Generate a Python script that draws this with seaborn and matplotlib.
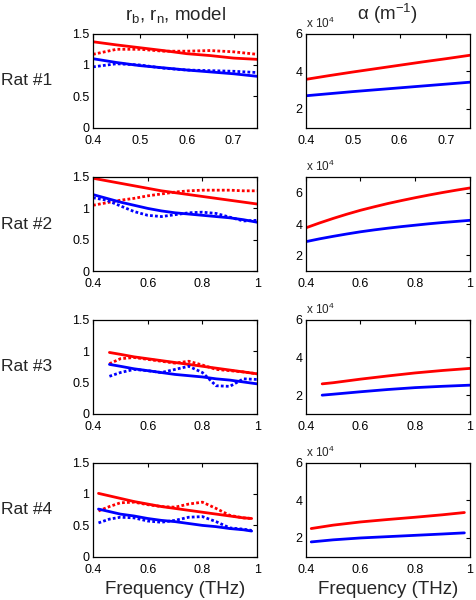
import matplotlib
matplotlib.use('Agg')
import matplotlib.pyplot as plt
from matplotlib.ticker import FuncFormatter
import seaborn as sns

# frequency grids (THz)
f1 = [0.40, 0.45, 0.50, 0.55, 0.60, 0.65, 0.70, 0.75]
f2 = [0.40, 0.45, 0.50, 0.55, 0.60, 0.65, 0.70, 0.75, 0.80, 0.85, 0.90, 0.95, 1.00]
f3 = [0.46, 0.50, 0.55, 0.60, 0.65, 0.70, 0.75, 0.80, 0.85, 0.90, 0.95, 1.00]
f4 = [0.42, 0.46, 0.50, 0.55, 0.60, 0.65, 0.70, 0.75, 0.80, 0.85, 0.90, 0.95, 0.98]

# r_b / r_n : solid = model, dotted = measured
rat1_red_model = [1.37, 1.32, 1.275, 1.23, 1.18, 1.15, 1.11, 1.09]
rat1_red_meas = [1.17, 1.25, 1.25, 1.22, 1.22, 1.23, 1.21, 1.17]
rat1_blue_model = [1.10, 1.04, 0.99, 0.955, 0.92, 0.89, 0.86, 0.82]
rat1_blue_meas = [0.97, 1.02, 1.00, 0.95, 0.92, 0.91, 0.90, 0.88]

rat2_red_model = [1.48, 1.44, 1.40, 1.36, 1.32, 1.28, 1.25, 1.22, 1.19, 1.16, 1.13, 1.10, 1.07]
rat2_red_meas = [1.05, 1.09, 1.13, 1.16, 1.20, 1.23, 1.26, 1.28, 1.29, 1.29, 1.29, 1.28, 1.28]
rat2_blue_model = [1.22, 1.16, 1.10, 1.05, 1.00, 0.96, 0.93, 0.91, 0.89, 0.87, 0.85, 0.82, 0.78]
rat2_blue_meas = [1.17, 1.13, 1.04, 0.95, 0.89, 0.87, 0.90, 0.93, 0.94, 0.92, 0.86, 0.80, 0.81]

rat3_red_model = [0.98, 0.95, 0.91, 0.88, 0.85, 0.82, 0.79, 0.76, 0.73, 0.70, 0.67, 0.64]
rat3_red_meas = [0.80, 0.88, 0.90, 0.87, 0.84, 0.81, 0.84, 0.78, 0.71, 0.69, 0.67, 0.64]
rat3_blue_model = [0.79, 0.76, 0.72, 0.69, 0.66, 0.63, 0.61, 0.59, 0.56, 0.54, 0.51, 0.48]
rat3_blue_meas = [0.60, 0.66, 0.71, 0.69, 0.66, 0.71, 0.76, 0.66, 0.45, 0.44, 0.56, 0.55]

rat4_red_model = [1.01, 0.97, 0.93, 0.88, 0.84, 0.80, 0.77, 0.74, 0.71, 0.68, 0.65, 0.62, 0.61]
rat4_red_meas = [0.73, 0.80, 0.86, 0.87, 0.83, 0.80, 0.79, 0.84, 0.87, 0.77, 0.66, 0.62, 0.61]
rat4_blue_model = [0.76, 0.72, 0.68, 0.65, 0.61, 0.58, 0.56, 0.53, 0.50, 0.48, 0.45, 0.43, 0.41]
rat4_blue_meas = [0.54, 0.60, 0.63, 0.62, 0.57, 0.55, 0.58, 0.63, 0.64, 0.56, 0.46, 0.44, 0.42]

# alpha (x 10^4 m^-1)
fa1 = [0.40, 0.45, 0.50, 0.55, 0.60, 0.65, 0.70, 0.75]
rat1_alpha_red = [3.57, 3.77, 3.96, 4.14, 4.32, 4.50, 4.67, 4.85]
rat1_alpha_blue = [2.70, 2.81, 2.92, 3.02, 3.12, 3.22, 3.32, 3.42]
fa2 = [0.40, 0.45, 0.50, 0.55, 0.60, 0.65, 0.70, 0.75, 0.80, 0.85, 0.90, 0.95, 1.00]
rat2_alpha_red = [3.76, 4.07, 4.36, 4.63, 4.88, 5.10, 5.31, 5.50, 5.68, 5.85, 6.01, 6.16, 6.30]
rat2_alpha_blue = [2.88, 3.06, 3.22, 3.37, 3.51, 3.63, 3.74, 3.84, 3.93, 4.02, 4.10, 4.17, 4.24]
fa3 = [0.46, 0.50, 0.60, 0.70, 0.80, 0.90, 1.00]
rat3_alpha_red = [2.60, 2.66, 2.85, 3.02, 3.18, 3.31, 3.42]
rat3_alpha_blue = [2.00, 2.05, 2.18, 2.30, 2.40, 2.47, 2.53]
fa4 = [0.42, 0.50, 0.60, 0.70, 0.80, 0.90, 0.98]
rat4_alpha_red = [2.50, 2.68, 2.85, 2.98, 3.10, 3.23, 3.35]
rat4_alpha_blue = [1.79, 1.90, 2.00, 2.07, 2.14, 2.21, 2.27]

rat_labels = ['Rat #1', 'Rat #2', 'Rat #3', 'Rat #4']

sns.set_style('white')
plt.rcParams['font.family'] = ['Liberation Sans', 'DejaVu Sans']
plt.rcParams['mathtext.fontset'] = 'custom'
plt.rcParams['mathtext.rm'] = 'Liberation Sans'
plt.rcParams['mathtext.it'] = 'Liberation Sans:italic'

fig = plt.figure(figsize=(4.77, 6.0), dpi=100)

bottoms = [0.787, 0.548, 0.31, 0.072]
h = 0.157
left_x, right_x, w = 0.195, 0.641, 0.344

r_data = [
    (f1, rat1_red_model, rat1_red_meas, rat1_blue_model, rat1_blue_meas),
    (f2, rat2_red_model, rat2_red_meas, rat2_blue_model, rat2_blue_meas),
    (f3, rat3_red_model, rat3_red_meas, rat3_blue_model, rat3_blue_meas),
    (f4, rat4_red_model, rat4_red_meas, rat4_blue_model, rat4_blue_meas),
]
a_data = [
    (fa1, rat1_alpha_red, rat1_alpha_blue),
    (fa2, rat2_alpha_red, rat2_alpha_blue),
    (fa3, rat3_alpha_red, rat3_alpha_blue),
    (fa4, rat4_alpha_red, rat4_alpha_blue),
]

fmt = FuncFormatter(lambda v, p: f'{v:g}')
lw = 2.0
dot = (0, (1.0, 0.8))


def style(ax):
    ax.tick_params(direction='in', top=True, right=True, length=3,
                   width=0.8, labelsize=9, colors='black')
    ax.tick_params(axis='x', pad=5)
    ax.tick_params(axis='y', pad=2.5)
    for s in ax.spines.values():
        s.set_color('black')
        s.set_linewidth(0.9)
    ax.xaxis.set_major_formatter(fmt)
    ax.yaxis.set_major_formatter(fmt)


for i in range(4):
    f, rm, rd, bm, bd = r_data[i]
    ax = fig.add_axes([left_x, bottoms[i], w, h])
    sns.lineplot(x=f, y=rm, ax=ax, color='#ff0000', linewidth=lw)
    sns.lineplot(x=f, y=rd, ax=ax, color='#ff0000', linewidth=lw, linestyle=dot)
    sns.lineplot(x=f, y=bm, ax=ax, color='#0000ff', linewidth=lw)
    sns.lineplot(x=f, y=bd, ax=ax, color='#0000ff', linewidth=lw, linestyle=dot)
    ax.set_ylim(0, 1.5)
    ax.set_yticks([0, 0.5, 1, 1.5])
    if i == 0:
        ax.set_xlim(0.4, 0.75)
        ax.set_xticks([0.4, 0.5, 0.6, 0.7])
        ax.set_title(r'r$_\mathrm{b}$, r$_\mathrm{n}$, model', fontsize=13.5, pad=10)
    else:
        ax.set_xlim(0.4, 1.0)
        ax.set_xticks([0.4, 0.6, 0.8, 1.0])
    if i == 3:
        ax.set_xlabel('Frequency (THz)', fontsize=13.5, labelpad=4)
    style(ax)
    fig.text(0.002, bottoms[i] + h * 0.5, rat_labels[i], fontsize=12.5,
             ha='left', va='center')

    fa, ar, ab = a_data[i]
    ax2 = fig.add_axes([right_x, bottoms[i], w, h])
    sns.lineplot(x=fa, y=ar, ax=ax2, color='#ff0000', linewidth=lw)
    sns.lineplot(x=fa, y=ab, ax=ax2, color='#0000ff', linewidth=lw)
    if i == 1:
        ax2.set_ylim(1, 7)
    else:
        ax2.set_ylim(1, 6)
    ax2.set_yticks([2, 4, 6])
    if i == 0:
        ax2.set_xlim(0.4, 0.75)
        ax2.set_xticks([0.4, 0.5, 0.6, 0.7])
        ax2.set_title('α (m$^{-1}$)', fontsize=13.5, pad=10)
    else:
        ax2.set_xlim(0.4, 1.0)
        ax2.set_xticks([0.4, 0.6, 0.8, 1.0])
    if i == 3:
        ax2.set_xlabel('Frequency (THz)', fontsize=13.5, labelpad=4)
    style(ax2)
    ax2.text(0.0, 1.03, r'x 10$^4$', transform=ax2.transAxes, fontsize=8.5,
             ha='left', va='bottom')

fig.savefig('out.png', dpi=100)
